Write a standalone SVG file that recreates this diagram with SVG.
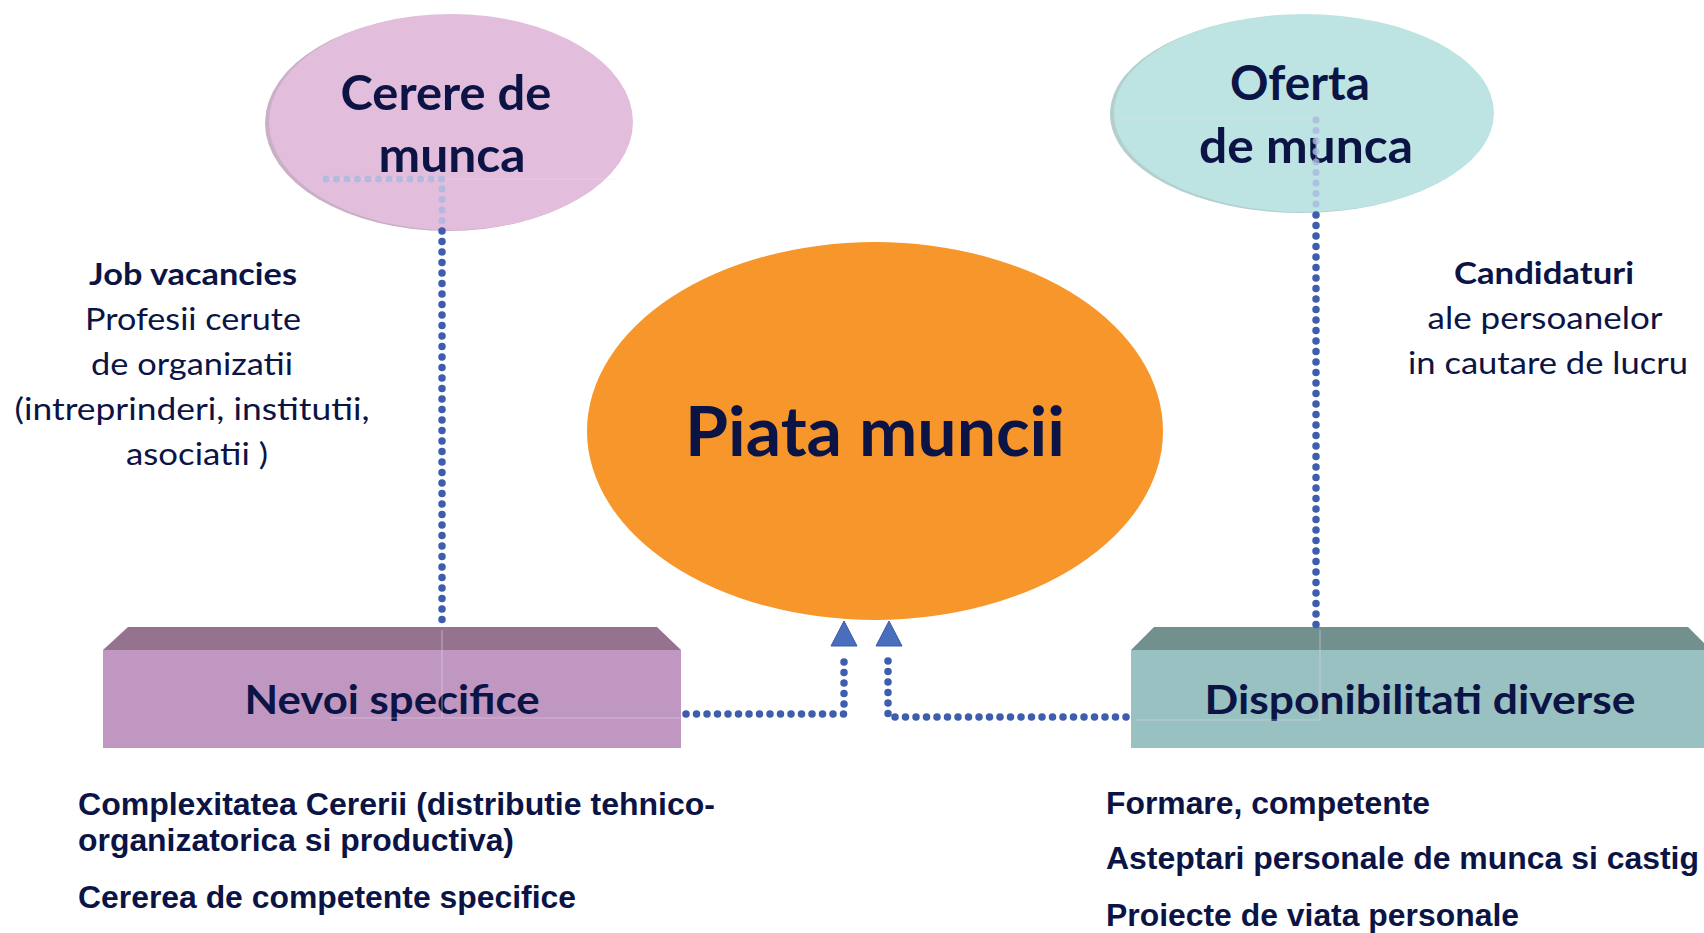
<svg xmlns="http://www.w3.org/2000/svg" width="1704" height="933" viewBox="0 0 1704 933">
<style>
.ttl{font-family:Lato,"Open Sans",sans-serif;font-weight:bold;fill:#0B1445;text-anchor:middle}
.body{font-family:Lato,"Open Sans",sans-serif;fill:#0B1445;text-anchor:middle;font-size:31px}
.bodyb{font-weight:bold}
.list{font-family:"Liberation Sans",Arial,sans-serif;font-weight:bold;fill:#0B1445;font-size:31px}
.dots{fill:none;stroke:#3E5DAE;stroke-width:7.5;stroke-linecap:round;stroke-dasharray:0 10.5}
.faint{fill:none;stroke:#A9B8DE;stroke-width:7;stroke-linecap:round;stroke-dasharray:0 10.5;opacity:0.8}
.ghost{fill:none;stroke:#E6DDEA;stroke-width:1.2;opacity:0.45}
.arrow{fill:#4A6EBE;stroke:#3A5AA8;stroke-width:1}
</style>
<rect width="1704" height="933" fill="#FFFFFF"/>

<g id="node-cerere">
<ellipse cx="448" cy="123" rx="183" ry="108" fill="#C9B0C6"/>
<ellipse cx="451" cy="122" rx="182" ry="108" fill="#E3BEDC"/>
<text class="ttl" x="446" y="110" font-size="48" textLength="211" lengthAdjust="spacingAndGlyphs">Cerere de</text>
<text class="ttl" x="452" y="172" font-size="48" textLength="147" lengthAdjust="spacingAndGlyphs">munca</text>
</g>

<g id="node-oferta">
<ellipse cx="1301" cy="114" rx="191" ry="99" fill="#B5CFCF"/>
<ellipse cx="1304" cy="113" rx="190" ry="99" fill="#BEE3E3"/>
<text class="ttl" x="1300" y="100" font-size="48" textLength="140" lengthAdjust="spacingAndGlyphs">Oferta</text>
<text class="ttl" x="1306" y="163" font-size="48" textLength="214" lengthAdjust="spacingAndGlyphs">de munca</text>
</g>

<g id="node-piata">
<ellipse cx="875" cy="431" rx="288" ry="189" fill="#F7962A"/>
<text class="ttl" x="875" y="456" font-size="68" textLength="380" lengthAdjust="spacingAndGlyphs">Piata muncii</text>
</g>

<g id="node-nevoi">
<polygon points="103,650 128,627 657,627 681,650" fill="#95738F"/>
<rect x="103" y="650" width="578" height="98" fill="#C097C0"/>
<text class="ttl" x="392" y="714" font-size="40" textLength="295" lengthAdjust="spacingAndGlyphs">Nevoi specifice</text>
</g>

<g id="node-disponibilitati">
<polygon points="1131,650 1154,627 1688,627 1711,650" fill="#72918E"/>
<rect x="1131" y="650" width="580" height="98" fill="#99C1C1"/>
<text class="ttl" x="1420" y="714" font-size="40" textLength="431" lengthAdjust="spacingAndGlyphs">Disponibilitati diverse</text>
</g>

<g id="label-job">
<text class="body bodyb" x="193" y="285" textLength="208" lengthAdjust="spacingAndGlyphs">Job vacancies</text>
<text class="body" x="193" y="330" textLength="216" lengthAdjust="spacingAndGlyphs">Profesii cerute</text>
<text class="body" x="192" y="375" textLength="202" lengthAdjust="spacingAndGlyphs">de organizatii</text>
<text class="body" x="192" y="420" textLength="355" lengthAdjust="spacingAndGlyphs">(intreprinderi, institutii,</text>
<text class="body" x="197" y="465" textLength="142" lengthAdjust="spacingAndGlyphs">asociatii )</text>
</g>

<g id="label-candidaturi">
<text class="body bodyb" x="1544" y="284" textLength="180" lengthAdjust="spacingAndGlyphs">Candidaturi</text>
<text class="body" x="1545" y="329" textLength="235" lengthAdjust="spacingAndGlyphs">ale persoanelor</text>
<text class="body" x="1548" y="374" textLength="280" lengthAdjust="spacingAndGlyphs">in cautare de lucru</text>
</g>

<g id="list-left">
<text class="list" x="78" y="815" textLength="637" lengthAdjust="spacingAndGlyphs">Complexitatea Cererii (distributie tehnico-</text>
<text class="list" x="78" y="851" textLength="436" lengthAdjust="spacingAndGlyphs">organizatorica si productiva)</text>
<text class="list" x="78" y="908" textLength="498" lengthAdjust="spacingAndGlyphs">Cererea de competente specifice</text>
</g>

<g id="list-right">
<text class="list" x="1106" y="814" textLength="324" lengthAdjust="spacingAndGlyphs">Formare, competente</text>
<text class="list" x="1106" y="869" textLength="593" lengthAdjust="spacingAndGlyphs">Asteptari personale de munca si castig</text>
<text class="list" x="1106" y="926" textLength="413" lengthAdjust="spacingAndGlyphs">Proiecte de viata personale</text>
</g>

<g id="connectors">
<path class="ghost" d="M326,179 H615"/>
<path class="faint" d="M326,179 H442 V222"/>
<path class="dots" d="M442,231 V626"/>
<path class="ghost" d="M442,630 V718 M330,718 H681 M1136,720 H1320 V630"/>
<path class="ghost" d="M1116,118 H1316 V205"/>
<path class="faint" d="M1316,120 V205"/>
<path class="dots" d="M1316,215 V626"/>
<path class="dots" d="M686,714 H844 V652"/>
<path class="dots" d="M1126,717 H888 V652"/>
<polygon class="arrow" points="844,621 831,646 857,646"/>
<polygon class="arrow" points="889,621 876,646 902,646"/>
</g>
</svg>
